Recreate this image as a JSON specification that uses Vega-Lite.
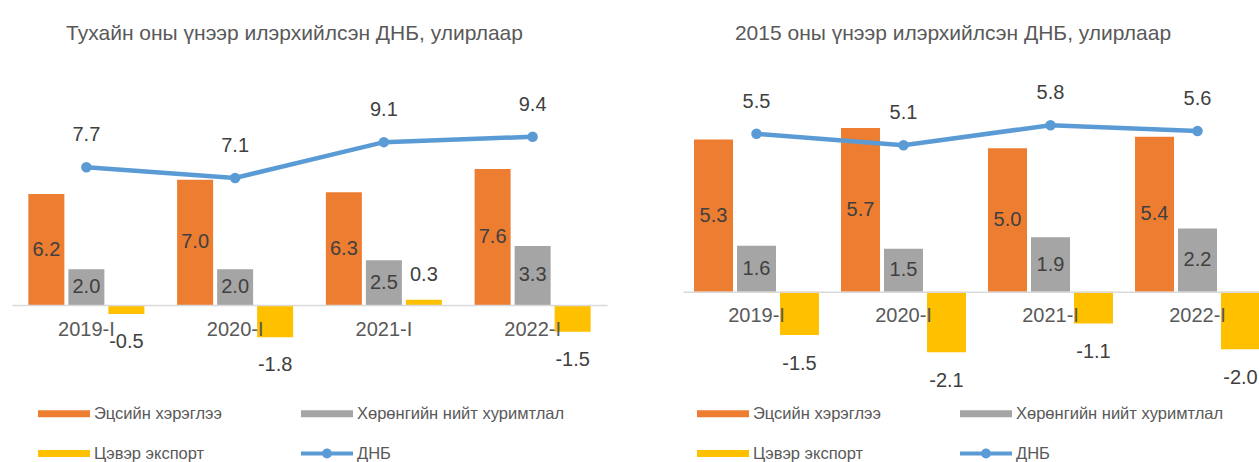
{
  "$schema": "https://vega.github.io/schema/vega-lite/v6.json",
  "autosize": {"type": "pad"},
  "padding": {"left": 12, "top": 23, "right": 0, "bottom": 0},
  "background": "white",
  "config": {
    "font": "Liberation Sans",
    "view": {"stroke": null},
    "title": {"fontSize": 21, "fontWeight": "normal", "color": "#595959", "offset": 18},
    "legend": {"padding": 0}
  },
  "spacing": 76,
  "resolve": {
    "scale": {"x": "independent", "y": "independent", "xOffset": "independent", "color": "independent"},
    "legend": {"color": "independent"},
    "axis": {"x": "independent", "y": "independent"}
  },
  "hconcat": [
    {
      "width": 595,
      "height": 316,
      "title": {"text": "Тухайн оны үнээр илэрхийлсэн ДНБ, улирлаар", "dx": -15},
      "data": {"values": [
        {"q": "2019-I", "s": "Эцсийн хэрэглээ", "v": 6.2},
        {"q": "2019-I", "s": "Хөрөнгийн нийт хуримтлал", "v": 2.0},
        {"q": "2019-I", "s": "Цэвэр экспорт", "v": -0.5},
        {"q": "2019-I", "s": "ДНБ", "v": 7.7},
        {"q": "2020-I", "s": "Эцсийн хэрэглээ", "v": 7.0},
        {"q": "2020-I", "s": "Хөрөнгийн нийт хуримтлал", "v": 2.0},
        {"q": "2020-I", "s": "Цэвэр экспорт", "v": -1.8},
        {"q": "2020-I", "s": "ДНБ", "v": 7.1},
        {"q": "2021-I", "s": "Эцсийн хэрэглээ", "v": 6.3},
        {"q": "2021-I", "s": "Хөрөнгийн нийт хуримтлал", "v": 2.5},
        {"q": "2021-I", "s": "Цэвэр экспорт", "v": 0.3},
        {"q": "2021-I", "s": "ДНБ", "v": 9.1},
        {"q": "2022-I", "s": "Эцсийн хэрэглээ", "v": 7.6},
        {"q": "2022-I", "s": "Хөрөнгийн нийт хуримтлал", "v": 3.3},
        {"q": "2022-I", "s": "Цэвэр экспорт", "v": -1.5},
        {"q": "2022-I", "s": "ДНБ", "v": 9.4}
      ]},
      "transform": [
        {"calculate": "replace(format(datum.v, '.1f'), '\u2212', '-')", "as": "lbl"},
        {"calculate": "datum.v / 2", "as": "mid"}
      ],
      "encoding": {
        "x": {
          "field": "q", "type": "nominal", "sort": null,
          "scale": {"paddingInner": 0.22, "paddingOuter": 0.11},
          "axis": {"title": null, "orient": "bottom", "offset": -73, "ticks": false, "domainColor": "#d9d9d9", "domainWidth": 1.5, "labelFontSize": 20, "labelColor": "#595959", "labelPadding": 14, "labelAngle": 0, "zindex": 1}
        }
      },
      "layer": [
        {
          "transform": [{"filter": "datum.s !== 'ДНБ'"}],
          "mark": {"type": "bar"},
          "encoding": {
            "xOffset": {"field": "s", "type": "nominal", "scale": {"domain": ["Эцсийн хэрэглээ", "Хөрөнгийн нийт хуримтлал", "Цэвэр экспорт"], "paddingInner": 0.1}},
            "y": {"field": "v", "type": "quantitative", "scale": {"domain": [-4.08, 13.58], "nice": false, "zero": false}, "axis": null},
            "color": {
              "field": "s", "type": "nominal",
              "scale": {"domain": ["Эцсийн хэрэглээ", "Хөрөнгийн нийт хуримтлал", "Цэвэр экспорт", "ДНБ"], "range": ["#ED7D31", "#A5A5A5", "#FFC000", "#5B9BD5"]},
              "legend": {
                "orient": "none", "legendX": 26, "legendY": 343.5, "columns": 2, "direction": "horizontal", "title": null,
                "symbolType": "M-1,-0.135H1V0.135H-1Z", "symbolSize": 2704, "symbolStrokeWidth": 0,
                "clipHeight": 16, "rowPadding": 23, "columnPadding": 79, "labelOffset": 4,
                "labelFontSize": 16.5, "labelColor": "#595959", "labelLimit": 400,
                "encode": {"symbols": {"update": {"shape": {"signal": "datum.value === 'ДНБ' ? 'M-1,-0.077H1V0.077H-1Z M0.19,0A0.19,0.19,0,1,1,-0.19,0A0.19,0.19,0,1,1,0.19,0Z' : 'M-1,-0.135H1V0.135H-1Z'"}, "strokeWidth": {"value": 0}}}}
              }
            }
          }
        },
        {
          "transform": [{"filter": "datum.s === 'Эцсийн хэрэглээ' || datum.s === 'Хөрөнгийн нийт хуримтлал'"}],
          "mark": {"type": "text", "baseline": "middle", "fontSize": 20, "color": "#404040"},
          "encoding": {
            "xOffset": {"field": "s", "type": "nominal"},
            "y": {"field": "mid", "type": "quantitative"},
            "text": {"field": "lbl"}
          }
        },
        {
          "transform": [{"filter": "datum.s === 'Цэвэр экспорт' && datum.v < 0"}],
          "mark": {"type": "text", "baseline": "middle", "fontSize": 20, "color": "#404040", "dy": 28},
          "encoding": {
            "xOffset": {"field": "s", "type": "nominal"},
            "y": {"field": "v", "type": "quantitative"},
            "text": {"field": "lbl"}
          }
        },
        {
          "transform": [{"filter": "datum.s === 'Цэвэр экспорт' && datum.v >= 0"}],
          "mark": {"type": "text", "baseline": "middle", "fontSize": 20, "color": "#404040", "dy": -25},
          "encoding": {
            "xOffset": {"field": "s", "type": "nominal"},
            "y": {"field": "v", "type": "quantitative"},
            "text": {"field": "lbl"}
          }
        },
        {
          "transform": [{"filter": "datum.s === 'ДНБ'"}],
          "mark": {"type": "line", "color": "#5B9BD5", "strokeWidth": 4.5},
          "encoding": {"y": {"field": "v", "type": "quantitative"}}
        },
        {
          "transform": [{"filter": "datum.s === 'ДНБ'"}],
          "mark": {"type": "point", "filled": true, "opacity": 1, "color": "#5B9BD5", "size": 110},
          "encoding": {"y": {"field": "v", "type": "quantitative"}}
        },
        {
          "transform": [{"filter": "datum.s === 'ДНБ'"}],
          "mark": {"type": "text", "baseline": "middle", "fontSize": 20, "color": "#404040", "dy": -32},
          "encoding": {"y": {"field": "v", "type": "quantitative"}, "text": {"field": "lbl"}}
        }
      ]
    },
    {
      "width": 588,
      "height": 316,
      "title": {"text": "2015 оны үнээр илэрхийлсэн ДНБ, улирлаар", "dx": -24},
      "data": {"values": [
        {"q": "2019-I", "s": "Эцсийн хэрэглээ", "v": 5.3},
        {"q": "2019-I", "s": "Хөрөнгийн нийт хуримтлал", "v": 1.6},
        {"q": "2019-I", "s": "Цэвэр экспорт", "v": -1.5},
        {"q": "2019-I", "s": "ДНБ", "v": 5.5},
        {"q": "2020-I", "s": "Эцсийн хэрэглээ", "v": 5.7},
        {"q": "2020-I", "s": "Хөрөнгийн нийт хуримтлал", "v": 1.5},
        {"q": "2020-I", "s": "Цэвэр экспорт", "v": -2.1},
        {"q": "2020-I", "s": "ДНБ", "v": 5.1},
        {"q": "2021-I", "s": "Эцсийн хэрэглээ", "v": 5.0},
        {"q": "2021-I", "s": "Хөрөнгийн нийт хуримтлал", "v": 1.9},
        {"q": "2021-I", "s": "Цэвэр экспорт", "v": -1.1},
        {"q": "2021-I", "s": "ДНБ", "v": 5.8},
        {"q": "2022-I", "s": "Эцсийн хэрэглээ", "v": 5.4},
        {"q": "2022-I", "s": "Хөрөнгийн нийт хуримтлал", "v": 2.2},
        {"q": "2022-I", "s": "Цэвэр экспорт", "v": -2.0},
        {"q": "2022-I", "s": "ДНБ", "v": 5.6}
      ]},
      "transform": [
        {"calculate": "replace(format(datum.v, '.1f'), '\u2212', '-')", "as": "lbl"},
        {"calculate": "datum.v / 2", "as": "mid"}
      ],
      "encoding": {
        "x": {
          "field": "q", "type": "nominal", "sort": null,
          "scale": {"paddingInner": 0.15, "paddingOuter": 0.075},
          "axis": {"title": null, "orient": "bottom", "offset": -86.2, "ticks": false, "domainColor": "#d9d9d9", "domainWidth": 1.5, "labelFontSize": 20, "labelColor": "#595959", "labelPadding": 14, "labelAngle": 0, "zindex": 1}
        }
      },
      "layer": [
        {
          "transform": [{"filter": "datum.s !== 'ДНБ'"}],
          "mark": {"type": "bar"},
          "encoding": {
            "xOffset": {"field": "s", "type": "nominal", "scale": {"domain": ["Эцсийн хэрэглээ", "Хөрөнгийн нийт хуримтлал", "Цэвэр экспорт"], "paddingInner": 0.093}},
            "y": {"field": "v", "type": "quantitative", "scale": {"domain": [-3, 8], "nice": false, "zero": false}, "axis": null},
            "color": {
              "field": "s", "type": "nominal",
              "scale": {"domain": ["Эцсийн хэрэглээ", "Хөрөнгийн нийт хуримтлал", "Цэвэр экспорт", "ДНБ"], "range": ["#ED7D31", "#A5A5A5", "#FFC000", "#5B9BD5"]},
              "legend": {
                "orient": "none", "legendX": 14, "legendY": 343.5, "columns": 2, "direction": "horizontal", "title": null,
                "symbolType": "M-1,-0.135H1V0.135H-1Z", "symbolSize": 2704, "symbolStrokeWidth": 0,
                "clipHeight": 16, "rowPadding": 23, "columnPadding": 79, "labelOffset": 4,
                "labelFontSize": 16.5, "labelColor": "#595959", "labelLimit": 400,
                "encode": {"symbols": {"update": {"shape": {"signal": "datum.value === 'ДНБ' ? 'M-1,-0.077H1V0.077H-1Z M0.19,0A0.19,0.19,0,1,1,-0.19,0A0.19,0.19,0,1,1,0.19,0Z' : 'M-1,-0.135H1V0.135H-1Z'"}, "strokeWidth": {"value": 0}}}}
              }
            }
          }
        },
        {
          "transform": [{"filter": "datum.s === 'Эцсийн хэрэглээ' || datum.s === 'Хөрөнгийн нийт хуримтлал'"}],
          "mark": {"type": "text", "baseline": "middle", "fontSize": 20, "color": "#404040"},
          "encoding": {
            "xOffset": {"field": "s", "type": "nominal"},
            "y": {"field": "mid", "type": "quantitative"},
            "text": {"field": "lbl"}
          }
        },
        {
          "transform": [{"filter": "datum.s === 'Цэвэр экспорт' && datum.v < 0"}],
          "mark": {"type": "text", "baseline": "middle", "fontSize": 20, "color": "#404040", "dy": 29},
          "encoding": {
            "xOffset": {"field": "s", "type": "nominal"},
            "y": {"field": "v", "type": "quantitative"},
            "text": {"field": "lbl"}
          }
        },
        {
          "transform": [{"filter": "datum.s === 'ДНБ'"}],
          "mark": {"type": "line", "color": "#5B9BD5", "strokeWidth": 4.5},
          "encoding": {"y": {"field": "v", "type": "quantitative"}}
        },
        {
          "transform": [{"filter": "datum.s === 'ДНБ'"}],
          "mark": {"type": "point", "filled": true, "opacity": 1, "color": "#5B9BD5", "size": 110},
          "encoding": {"y": {"field": "v", "type": "quantitative"}}
        },
        {
          "transform": [{"filter": "datum.s === 'ДНБ'"}],
          "mark": {"type": "text", "baseline": "middle", "fontSize": 20, "color": "#404040", "dy": -32},
          "encoding": {"y": {"field": "v", "type": "quantitative"}, "text": {"field": "lbl"}}
        }
      ]
    }
  ]
}
